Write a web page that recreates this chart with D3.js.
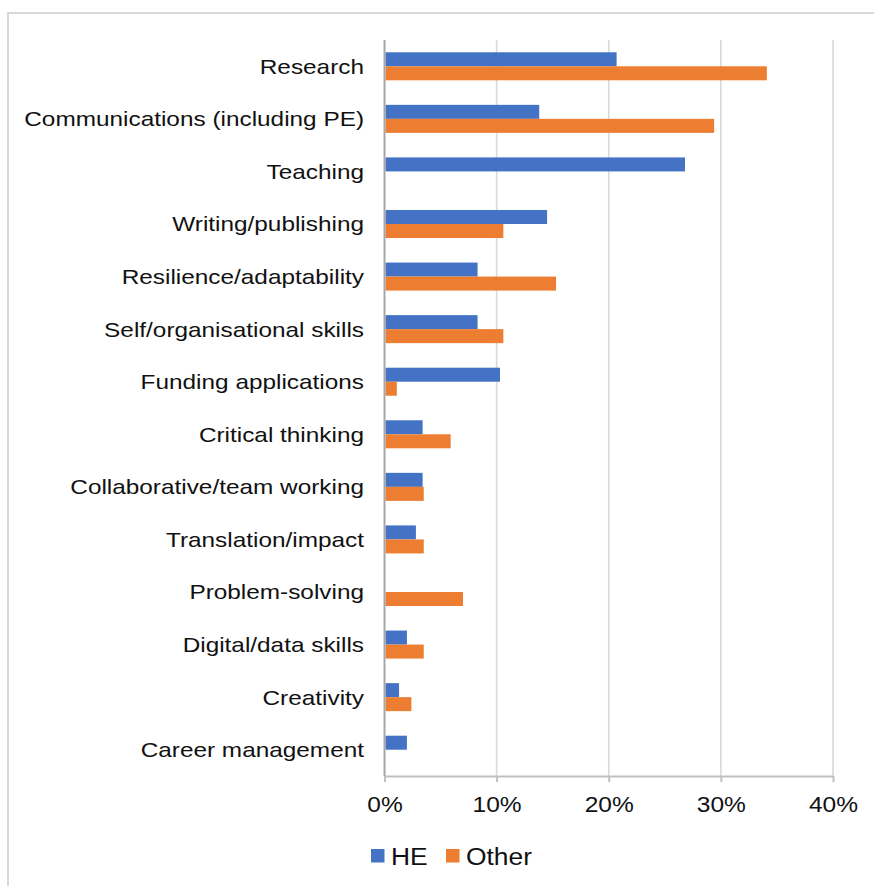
<!DOCTYPE html>
<html>
<head>
<meta charset="utf-8">
<script src="https://cdn.jsdelivr.net/npm/d3@7"></script>
<style>
  body { margin: 0; background: #fff; }
  svg text { font-family: "Liberation Sans", Arial, sans-serif; fill: #111; }
</style>
</head>
<body>
<svg id="chart"></svg>
<script>
// skills listed as most useful, share of respondents
const categories = [
  "Research", "Communications (including PE)", "Teaching", "Writing/publishing",
  "Resilience/adaptability", "Self/organisational skills", "Funding applications",
  "Critical thinking", "Collaborative/team working", "Translation/impact",
  "Problem-solving", "Digital/data skills", "Creativity", "Career management"
];
const heValues    = [0.207, 0.138, 0.268, 0.145, 0.083, 0.083, 0.103, 0.034, 0.034, 0.028, 0.0, 0.020, 0.013, 0.020];
const otherValues = [0.341, 0.294, 0.0, 0.106, 0.153, 0.106, 0.011, 0.059, 0.035, 0.035, 0.070, 0.035, 0.024, 0.0];
const seriesNames = ["HE", "Other"];
const xTicks = [0, 0.1, 0.2, 0.3, 0.4];

const colors = { HE: "#4472C4", Other: "#ED7D31" };
const W = 874, H = 886;
const sx = 1.16; // text in the source is slightly stretched sideways

const rows = categories.map((c, i) => ({ cat: c, HE: heValues[i], Other: otherValues[i] }));

const svg = d3.select("#chart").attr("width", W).attr("height", H);

// outer frame
svg.append("rect")
  .attr("x", 8).attr("y", 13)
  .attr("width", W + 10).attr("height", H + 10)
  .attr("fill", "none").attr("stroke", "#d9d9d9").attr("stroke-width", 2);

const plot = { left: 384.5, right: 833, top: 40, bottom: 776 };

const xScale = d3.scaleLinear().domain([0, 0.4]).range([plot.left, plot.right]);
const yScale = d3.scaleBand().domain(categories)
  .range([plot.top, plot.bottom])
  .paddingInner(0.467).paddingOuter(0.2335);
const ySub = d3.scaleBand().domain(seriesNames).range([0, yScale.bandwidth()]);

// gridlines
svg.append("g").selectAll("line")
  .data(xTicks.filter(d => d > 0))
  .join("line")
  .attr("x1", d => xScale(d)).attr("x2", d => xScale(d))
  .attr("y1", plot.top).attr("y2", plot.bottom)
  .attr("stroke", "#d9d9d9").attr("stroke-width", 1.6);

// bars
const groups = svg.append("g").selectAll("g")
  .data(rows)
  .join("g")
  .attr("transform", d => `translate(0,${yScale(d.cat)})`);

groups.selectAll("rect")
  .data(d => seriesNames.map(k => ({ key: k, value: d[k] })).filter(e => e.value > 0))
  .join("rect")
  .attr("x", xScale(0) + 1)
  .attr("y", d => ySub(d.key))
  .attr("width", d => xScale(d.value) - xScale(0) - 1)
  .attr("height", ySub.bandwidth())
  .attr("fill", d => colors[d.key]);

// x axis
const xAxis = d3.axisBottom(xScale)
  .tickValues(xTicks)
  .tickSize(6)
  .tickSizeOuter(0)
  .tickFormat(d3.format(".0%"));

const xAxisG = svg.append("g")
  .attr("transform", `translate(0,${plot.bottom})`)
  .call(xAxis);
xAxisG.select(".domain").attr("stroke", "#bfbfbf").attr("stroke-width", 2);
xAxisG.selectAll(".tick line").attr("stroke", "#bfbfbf").attr("stroke-width", 2);
xAxisG.selectAll(".tick text")
  .attr("y", 36).attr("dy", 0)
  .attr("transform", `scale(1.14,1)`)
  .style("font-size", "21.5px")
  .attr("fill", "#111");

// category axis line
svg.append("line")
  .attr("x1", plot.left).attr("x2", plot.left)
  .attr("y1", plot.top).attr("y2", plot.bottom)
  .attr("stroke", "#a6a6a6").attr("stroke-width", 2);

// category labels
svg.append("g").selectAll("text")
  .data(categories)
  .join("text")
  .attr("transform", d => `translate(364,${yScale(d) + yScale.bandwidth() / 2}) scale(${sx},1)`)
  .attr("text-anchor", "end")
  .attr("dy", "0.35em")
  .style("font-size", "21px")
  .text(d => d);

// legend
const legend = svg.append("g").attr("transform", "translate(371,849)");
const legendX = { HE: 0, Other: 75 };
legend.selectAll("rect")
  .data(seriesNames)
  .join("rect")
  .attr("x", d => legendX[d]).attr("y", 0)
  .attr("width", 13.5).attr("height", 13.5)
  .attr("fill", d => colors[d]);
legend.selectAll("text")
  .data(seriesNames)
  .join("text")
  .attr("transform", d => `translate(${legendX[d] + 20},15.5) scale(1.1,1)`)
  .style("font-size", "24px")
  .text(d => d);
</script>
</body>
</html>
